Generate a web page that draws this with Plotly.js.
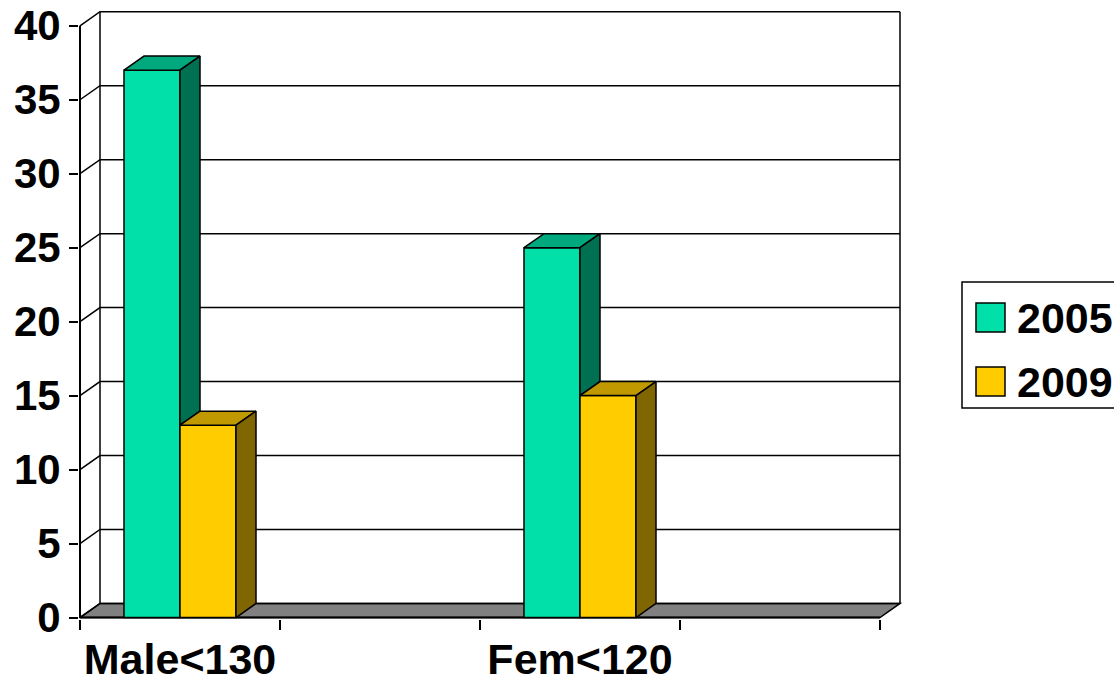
<!DOCTYPE html>
<html>
<head>
<meta charset="utf-8">
<script src="https://cdn.plot.ly/plotly-3.0.1.min.js"></script>
<style>html,body{margin:0;padding:0;background:#fff;}#chart{width:1114px;height:684px;}</style>
</head>
<body>
<div id="chart"></div>
<script>
// ---- data ----
const categories = ['Male<130', '', 'Fem<120', ''];
const seriesNames = ['2005', '2009'];
const values2005 = [37, null, 25, null];
const values2009 = [13, null, 15, null];
const yTicks = [0, 5, 10, 15, 20, 25, 30, 35, 40];

// ---- styling ----
const W = 1114, H = 684, ML = 79, MR = 212, MT = 11, MB = 65;
const plotW = W - ML - MR, plotH = H - MT - MB;
const FONT = 'Liberation Sans, Arial, sans-serif';
const colors = [
  {front: '#00E0A8', top: '#00A87E', side: '#007052'},
  {front: '#FFCC00', top: '#C09900', side: '#806600'}
];
const DX = 0.1, DY = 0.95;       // depth offset in axis units
const BW = 0.28;                 // bar width in category units
const EDGE = {color: '#000', width: 1.5};
const xMin = -0.5, xMax = categories.length - 0.5;
const yTop = yTicks[yTicks.length - 1];

const allSeries = [values2005, values2009];
const xs = categories.map((c, i) => i);

const traces = [];
const faceTraces = [];
allSeries.forEach((vals, s) => {
  const off = -BW * allSeries.length / 2 + BW * s;
  traces.push({
    type: 'bar', x: xs, y: vals, width: BW, offset: off,
    name: seriesNames[s], showlegend: false, hoverinfo: 'skip',
    marker: {color: colors[s].front, line: EDGE}
  });
  vals.forEach((v, i) => {
    if (v === null || v === undefined) return;
    const x1 = i + off, x2 = x1 + BW;
    // top face
    faceTraces.push({
      type: 'scatter', mode: 'lines', fill: 'toself', fillcolor: colors[s].top,
      x: [x1, x2, x2 + DX, x1 + DX, x1], y: [v, v, v + DY, v + DY, v],
      line: EDGE, showlegend: false, hoverinfo: 'skip'
    });
    // side face (hidden part behind the neighbouring bar is left out)
    let lower = 0;
    if (s < allSeries.length - 1) {
      const nv = allSeries[s + 1][i];
      if (nv !== null && nv !== undefined) lower = Math.min(nv, v);
    }
    faceTraces.push({
      type: 'scatter', mode: 'lines', fill: 'toself', fillcolor: colors[s].side,
      x: [x2, x2, x2 + DX, x2 + DX, x2], y: [lower, v, v + DY, lower + DY, lower],
      line: EDGE, showlegend: false, hoverinfo: 'skip'
    });
  });
});

// ---- walls, floor, gridlines (decoration, below traces) ----
const shapes = [];
shapes.push({ // floor
  type: 'path', xref: 'x', yref: 'y', layer: 'below',
  path: `M${xMin},0 L${xMax},0 L${xMax + DX},${DY} L${xMin + DX},${DY} Z`,
  fillcolor: '#808080', line: EDGE
});
yTicks.forEach(t => {
  shapes.push({
    type: 'path', xref: 'x', yref: 'y', layer: 'below',
    path: `M${xMin},${t} L${xMin + DX},${t + DY} L${xMax + DX},${t + DY}`,
    line: EDGE
  });
});
shapes.push({type: 'line', xref: 'x', yref: 'y', layer: 'below', x0: xMin + DX, x1: xMin + DX, y0: DY, y1: yTop + DY, line: EDGE});
shapes.push({type: 'line', xref: 'x', yref: 'y', layer: 'below', x0: xMax + DX, x1: xMax + DX, y0: DY, y1: yTop + DY, line: EDGE});
shapes.push({type: 'line', xref: 'x', yref: 'y', layer: 'below', x0: xMin, x1: xMin, y0: 0, y1: yTop, line: {color: '#000', width: 2}});
shapes.push({type: 'line', xref: 'x', yref: 'y', layer: 'below', x0: xMin, x1: xMax, y0: 0, y1: 0, line: {color: '#000', width: 2}});

// ---- manual legend ----
const px2x = px => (px - ML) / plotW;
const py2y = py => (H - MB - py) / plotH;
shapes.push({type: 'rect', xref: 'paper', yref: 'paper', x0: px2x(962), x1: px2x(1130), y0: py2y(408), y1: py2y(282), fillcolor: '#fff', line: EDGE});
const annotations = [];
seriesNames.forEach((n, s) => {
  const top = 303 + s * 64;
  shapes.push({type: 'rect', xref: 'paper', yref: 'paper', x0: px2x(976), x1: px2x(1005), y0: py2y(top + 29), y1: py2y(top), fillcolor: colors[s].front, line: EDGE});
  annotations.push({xref: 'paper', yref: 'paper', x: px2x(1015), y: py2y(top + 15), xanchor: 'left', yanchor: 'middle', showarrow: false, text: n,
    font: {family: FONT, size: 43, color: '#000', weight: 'bold'}});
});

const layout = {
  width: W, height: H,
  margin: {l: ML, r: MR, t: MT, b: MB},
  paper_bgcolor: '#fff', plot_bgcolor: 'rgba(0,0,0,0)',
  showlegend: false, barmode: 'overlay',
  xaxis: {
    range: [xMin - 0.005, xMax + DX + 0.01], showgrid: false, zeroline: false, showline: false,
    tickmode: 'array', tickvals: xs, ticktext: categories, ticks: '',
    ticklabelstandoff: 11,
    tickfont: {family: FONT, size: 43, color: '#000', weight: 'bold'},
    minor: {tickmode: 'linear', tick0: xMin, dtick: 1, ticks: 'outside', ticklen: 10, tickwidth: 2, tickcolor: '#000', showgrid: false},
    fixedrange: true
  },
  yaxis: {
    range: [-0.1, 41], showgrid: false, zeroline: false, showline: false,
    tickmode: 'array', tickvals: yTicks, ticks: 'outside', ticklen: 9, tickwidth: 2, tickcolor: '#000',
    tickfont: {family: FONT, size: 42, color: '#000', weight: 'bold'},
    fixedrange: true
  },
  shapes: shapes,
  annotations: annotations
};

Plotly.newPlot('chart', traces.concat(faceTraces), layout, {displayModeBar: false, staticPlot: true});
</script>
</body>
</html>
